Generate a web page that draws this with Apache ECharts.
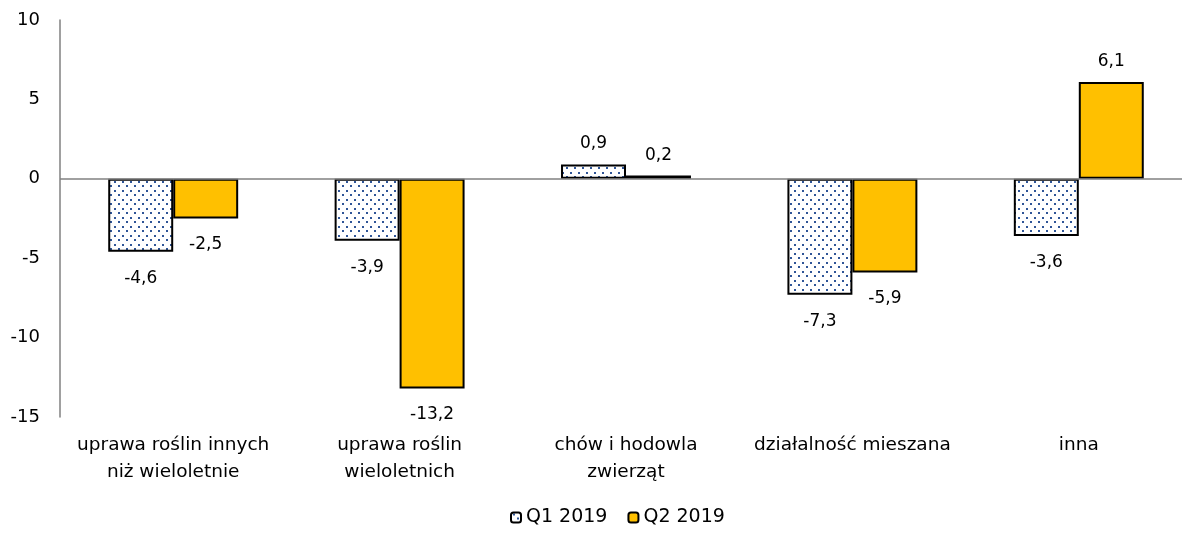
<!DOCTYPE html>
<html><head><meta charset="utf-8">
<script src="https://cdn.jsdelivr.net/npm/echarts@6/dist/echarts.min.js"></script>
<style>html,body{margin:0;padding:0;background:#fff}#c{width:1182px;height:538px}</style>
</head><body><div id="c"></div>
<script>
const categories = ['uprawa roślin innych\nniż wieloletnie', 'uprawa roślin\nwieloletnich', 'chów i hodowla\nzwierząt', 'działalność mieszana', 'inna'];
const seriesNames = ['Q1 2019', 'Q2 2019'];
const q1Values = [-4.6, -3.9, 0.9, -7.3, -3.6];
const q2Values = [-2.5, -13.2, 0.2, -5.9, 6.1];

function makePattern() {
  const c = document.createElement('canvas');
  c.width = 8; c.height = 9;
  const ctx = c.getContext('2d');
  ctx.fillStyle = '#ffffff';
  ctx.fillRect(0, 0, 8, 9);
  ctx.fillStyle = '#2F5597';
  ctx.fillRect(2, 1, 2, 2);
  ctx.fillRect(6, 5, 2, 2);
  return c;
}
const pattern = { image: makePattern(), repeat: 'repeat' };
const FONT = 'DejaVu Sans';

const labelOpt = {
  show: true,
  fontFamily: FONT,
  fontSize: 17,
  color: '#000',
  formatter: p => String(p.value).replace('.', ',')
};
function labelsFor(vals) {
  return vals.map(v => ({ value: v, label: { position: v < 0 ? 'bottom' : 'top', distance: v < 0 ? 18 : 12 } }));
}

const chart = echarts.init(document.getElementById('c'), null, { renderer: 'canvas' });
chart.setOption({
  animation: false,
  backgroundColor: '#fff',
  textStyle: { fontFamily: FONT },
  grid: { left: 60, width: 1132, top: 20, bottom: 121, containLabel: false, outerBoundsMode: 'none' },
  legend: {
    bottom: 6,
    left: 505,
    itemWidth: 10,
    itemHeight: 10,
    itemGap: 20,
    textStyle: { fontFamily: FONT, fontSize: 19, color: '#000' },
    data: seriesNames
  },
  xAxis: {
    type: 'category',
    data: categories,
    axisLine: { show: false },
    axisTick: { show: false },
    axisLabel: { fontFamily: FONT, fontSize: 18.5, color: '#000', lineHeight: 27, margin: 15, interval: 0 }
  },
  yAxis: {
    type: 'value',
    min: -15, max: 10, interval: 5,
    axisLine: { show: true, lineStyle: { color: '#808080', width: 1.5 } },
    axisTick: { show: false },
    splitLine: { show: false },
    axisLabel: { fontFamily: FONT, fontSize: 18, color: '#000', margin: 20 }
  },
  series: [
    {
      name: seriesNames[0], type: 'bar',
      data: labelsFor(q1Values),
      barGap: '0%', barCategoryGap: '42.6%',
      itemStyle: { color: pattern, borderColor: '#000', borderWidth: 2 },
      label: labelOpt,
      markLine: {
        silent: true, symbol: 'none', label: { show: false },
        lineStyle: { color: '#808080', width: 1.5, type: 'solid' },
        data: [{ yAxis: 0 }]
      },
      z: 2
    },
    {
      name: seriesNames[1], type: 'bar',
      data: labelsFor(q2Values),
      barGap: '0%', barCategoryGap: '42.6%',
      itemStyle: { color: '#FFC000', borderColor: '#000', borderWidth: 2 },
      label: labelOpt,
      z: 3
    }
  ]
});
</script></body></html>
